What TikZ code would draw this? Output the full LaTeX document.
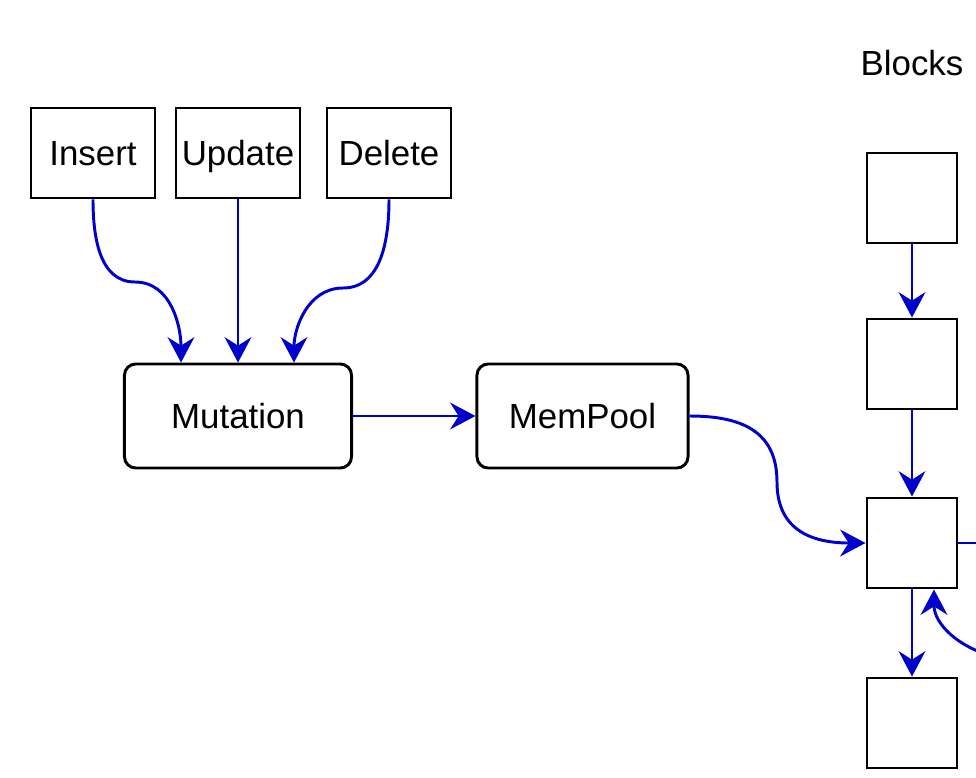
\documentclass[tikz,border=0pt]{standalone}
\usepackage{fontspec}
\setmainfont{Liberation Sans}
\usetikzlibrary{arrows.meta,positioning,calc}
\definecolor{Flow}{HTML}{0000CC}

\begin{document}
\begin{tikzpicture}[x=0.025cm,y=0.025cm,>={Stealth[length=18pt,width=19pt,inset=6pt]},
    op/.style={draw,line width=2.1pt,minimum width=3.1cm,minimum height=2.25cm,inner sep=0pt,text height=17.7pt,text depth=0pt,font=\fontsize{24.8}{29}\selectfont},
    stage/.style={draw,line width=2.1pt,rounded corners=8pt,minimum height=2.6cm,inner sep=0pt,text height=17.7pt,text depth=0pt,font=\fontsize{24.8}{29}\selectfont},
    blk/.style={draw,line width=2.1pt,minimum size=2.25cm,inner sep=0pt},
    flow/.style={->,Flow,line width=2.1pt}]
    \clip (0,0) rectangle (976,-778);
    \node[op] (insert) at (93,-153) {Insert};
    \node[op] (update) at (238,-153) {Update};
    \node[op] (delete) at (389,-153) {Delete};
    \node[stage,minimum width=5.675cm] (mutation) at (238,-416) {Mutation};
    \node[stage,minimum width=5.275cm] (mempool) at (582.5,-416) {MemPool};
    \node[font=\fontsize{24.8}{29}\selectfont,text height=17.7pt,text depth=0pt] (blocks) at (912,-63) {Blocks};
    \node[blk] (b1) at (912,-198) {};
    \node[blk] (b2) at (912,-364) {};
    \node[blk] (b3) at (912,-543) {};
    \node[blk] (b4) at (912,-723) {};
    \coordinate (m1) at (135,-282);
    \coordinate (m2) at (343,-288);
    \coordinate (m3) at (777,-482);
    \coordinate (out) at (980,-543);
    \coordinate (back) at (992,-656);
    \draw[flow] (insert.south) to[out=-90,in=180] (m1) to[out=0,in=90] ($(mutation.north)+(-57,0)$);
    \draw[flow] (update.south)--(mutation.north);
    \draw[flow] (delete.south) to[out=-90,in=0] (m2) to[out=180,in=90] ($(mutation.north)+(56,0)$);
    \draw[flow] (mutation.east)--(mempool.east-|mempool.west);
    \draw[flow] (mempool.east) to[out=0,in=90,looseness=1.2] (m3) to[out=-90,in=180,looseness=1.2] (b3.west);
    \draw[flow] (b1)--(b2);\draw[flow] (b2)--(b3);\draw[flow] (b3)--(b4);
    \draw[Flow,line width=2.1pt] (b3.east)--(out);
    \draw[flow] (back) to[out=165,in=-90] ($(b3.south)+(22,0)$);
  \end{tikzpicture}
\end{document}
